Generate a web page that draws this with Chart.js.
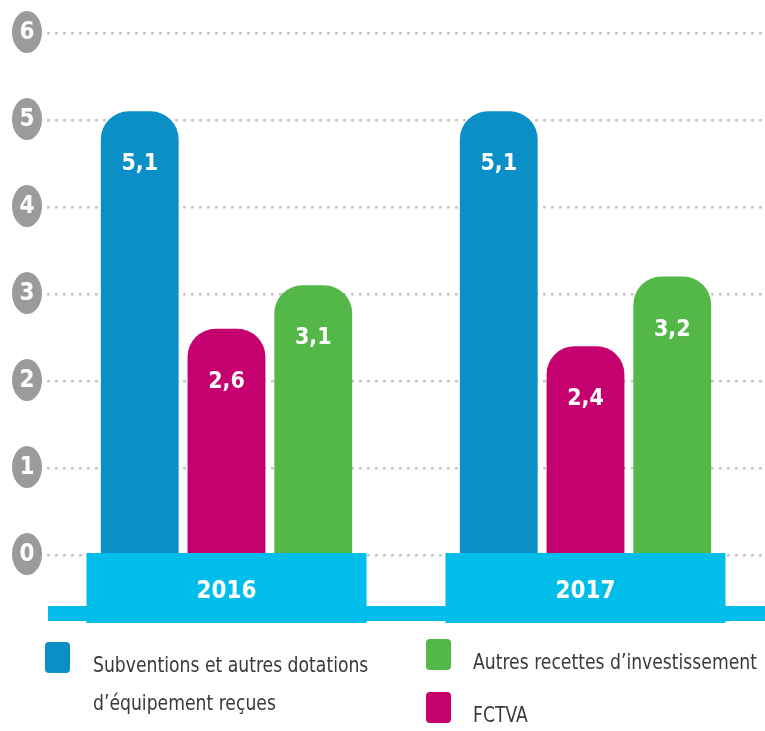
<!DOCTYPE html>
<html>
<head>
<meta charset="utf-8">
<script src="https://cdn.jsdelivr.net/npm/chart.js@4.4.1/dist/chart.umd.min.js"></script>
<style>
  html, body { margin: 0; padding: 0; background: #fff; }
  #wrap { position: relative; width: 765px; height: 731px; overflow: hidden; }
  .key { position: absolute; font-family: "DejaVu Sans Condensed", "Open Sans", sans-serif; font-size: 22px; line-height: 38px; color: #3a3a3a; }
  .key .sw { position: absolute; width: 25px; height: 31px; border-radius: 4px; }
  .key .txt { position: absolute; white-space: nowrap; transform: scaleX(0.87); transform-origin: 0 0; }
</style>
</head>
<body>
<div id="wrap">
  <canvas id="chart" width="765" height="731"></canvas>
</div>
<script>
var categories = ['2016', '2017'];
var subventions = [5.1, 5.1];
var fctva = [2.6, 2.4];
var autresRecettes = [3.1, 3.2];
var yTicks = [0, 1, 2, 3, 4, 5, 6];
var seriesNames = ['Subventions et autres dotations\nd\u2019\u00e9quipement re\u00e7ues', 'FCTVA', 'Autres recettes d\u2019investissement'];
var seriesColors = ['#0a8fc6', '#c5006f', '#54b848'];

var narrow = '"DejaVu Sans Condensed", "Open Sans", sans-serif';

function fmt(v) {
  return String(v).replace('.', ',');
}

// draws value labels, the cyan base with years, and the grey tick bubbles
var decor = {
  id: 'decor',
  afterDatasetsDraw: function(chart) {
    var ctx = chart.ctx, ca = chart.chartArea;
    var x = chart.scales.x, y = chart.scales.y;
    ctx.save();
    ctx.textAlign = 'center';
    ctx.textBaseline = 'middle';
    ctx.fillStyle = '#fff';
    ctx.font = 'bold 23px ' + narrow;
    chart.data.datasets.forEach(function(ds, i) {
      chart.getDatasetMeta(i).data.forEach(function(bar, j) {
        ctx.fillText(fmt(ds.data[j]), bar.x, bar.y + 53);
      });
    });

    var y0 = y.getPixelForValue(0);
    ctx.fillStyle = '#00bde9';
    ctx.fillRect(ca.left + 1, y0 + 51, ca.right - ca.left, 15);
    var half = x.width / categories.length * 0.39;
    categories.forEach(function(c, i) {
      var cx = x.getPixelForValue(i);
      ctx.fillStyle = '#00bde9';
      ctx.fillRect(cx - half, y0 - 2, half * 2, 70);
      ctx.fillStyle = '#fff';
      ctx.font = 'bold 24px ' + narrow;
      ctx.fillText(c, cx, y0 + 37);
    });

    ctx.font = 'bold 24px ' + narrow;
    y.ticks.forEach(function(t) {
      var py = y.getPixelForValue(t.value);
      ctx.fillStyle = '#9b9b9b';
      ctx.beginPath();
      ctx.ellipse(27, py - 1, 15, 21, 0, 0, Math.PI * 2);
      ctx.fill();
      ctx.fillStyle = '#fff';
      ctx.fillText(String(t.value), 27, py);
    });
    ctx.restore();
  }
};

var datasets = [subventions, fctva, autresRecettes].map(function(vals, i) {
  return {
    label: seriesNames[i],
    data: vals,
    backgroundColor: seriesColors[i],
    borderRadius: {topLeft: 28, topRight: 28, bottomLeft: 0, bottomRight: 0},
    borderSkipped: 'bottom',
    categoryPercentage: 0.725,
    barPercentage: 0.897
  };
});

var chart = new Chart(document.getElementById('chart'), {
  type: 'bar',
  data: { labels: categories, datasets: datasets },
  options: {
    responsive: false,
    animation: false,
    layout: { padding: { left: 47, right: 0, top: 33, bottom: 176 } },
    plugins: { legend: { display: false }, tooltip: { enabled: false } },
    scales: {
      x: { display: false },
      y: {
        min: 0, max: 6,
        afterBuildTicks: function(s) { s.ticks = yTicks.map(function(v) { return {value: v}; }); },
        ticks: { display: false },
        border: { display: false, dash: [3, 5] },
        grid: { color: '#c8c8c8', lineWidth: 2.5, drawTicks: false }
      }
    }
  },
  plugins: [decor]
});

// html legend, two columns
var keyPos = [
  {ds: 0, left: 45, top: 642, tx: 48, ty: 4},
  {ds: 2, left: 426, top: 639, tx: 47, ty: 4},
  {ds: 1, left: 426, top: 692, tx: 47, ty: 4}
];
var wrap = document.getElementById('wrap');
keyPos.forEach(function(k) {
  var ds = chart.data.datasets[k.ds];
  var el = document.createElement('div');
  el.className = 'key';
  el.style.left = k.left + 'px';
  el.style.top = k.top + 'px';
  var sw = document.createElement('div');
  sw.className = 'sw';
  sw.style.background = ds.backgroundColor;
  var tx = document.createElement('div');
  tx.className = 'txt';
  tx.style.left = k.tx + 'px';
  tx.style.top = k.ty + 'px';
  tx.innerHTML = ds.label.split('\n').join('<br>');
  el.appendChild(sw);
  el.appendChild(tx);
  wrap.appendChild(el);
});
</script>
</body>
</html>
